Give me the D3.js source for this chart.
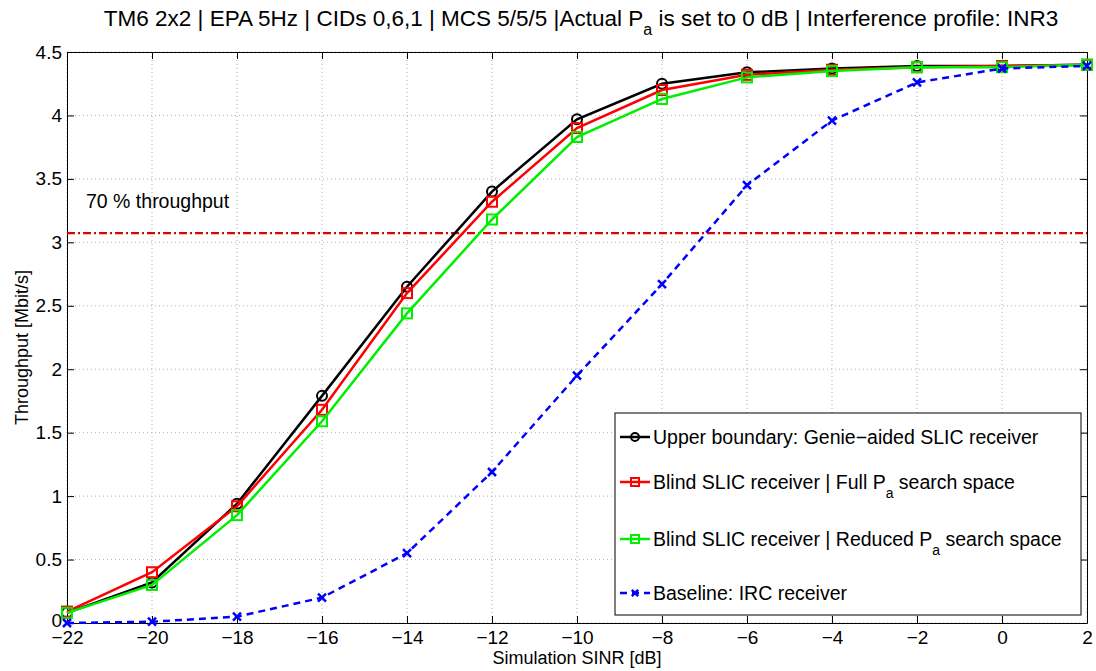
<!DOCTYPE html>
<html>
<head>
<meta charset="utf-8">
<script src="https://cdn.jsdelivr.net/npm/d3@7"></script>
<style>
  html, body { margin: 0; padding: 0; background: #fff; }
  svg { display: block; font-family: "Liberation Sans", Arial, sans-serif; }
</style>
</head>
<body>
<svg id="chart" width="1096" height="671"></svg>
<script>
// SINR grid (dB)
const sinr = [-22, -20, -18, -16, -14, -12, -10, -8, -6, -4, -2, 0, 2];

// Throughput per receiver (Mbit/s)
const genieAided   = [0.08, 0.32, 0.94, 1.79, 2.65, 3.40, 3.97, 4.25, 4.34, 4.37, 4.39, 4.39, 4.40];
const blindFull    = [0.09, 0.40, 0.92, 1.68, 2.60, 3.32, 3.90, 4.20, 4.32, 4.36, 4.38, 4.39, 4.40];
const blindReduced = [0.08, 0.30, 0.85, 1.59, 2.44, 3.18, 3.83, 4.13, 4.30, 4.35, 4.38, 4.38, 4.40];
const ircBaseline  = [0.00, 0.01, 0.05, 0.20, 0.55, 1.19, 1.95, 2.67, 3.45, 3.96, 4.26, 4.37, 4.39];

// 70 % of peak throughput
const threshold = 3.073;

const xTicks = [-22, -20, -18, -16, -14, -12, -10, -8, -6, -4, -2, 0, 2];
const yTicks = [0, 0.5, 1, 1.5, 2, 2.5, 3, 3.5, 4, 4.5];

const svg = d3.select("#chart");
const plotL = 67, plotR = 1087, plotT = 52, plotB = 623;

const x = d3.scaleLinear().domain([-22, 2]).range([plotL, plotR]);
const y = d3.scaleLinear().domain([0, 4.5]).range([plotB, plotT]);

// grid
const grid = svg.append("g").attr("stroke", "#b0b0b0").attr("stroke-width", 1)
  .attr("stroke-dasharray", "1,3");
xTicks.forEach(t => grid.append("line").attr("x1", x(t)).attr("x2", x(t)).attr("y1", plotT).attr("y2", plotB));
yTicks.forEach(t => grid.append("line").attr("x1", plotL).attr("x2", plotR).attr("y1", y(t)).attr("y2", y(t)));

// axes (ticks inward, boxed)
const tickLen = 7;
const axB = svg.append("g").attr("transform", `translate(0,${plotB})`)
  .call(d3.axisBottom(x).tickValues(xTicks).tickSizeInner(-tickLen).tickSizeOuter(0).tickPadding(8)
    .tickFormat(d => d < 0 ? "\u2212" + Math.abs(d) : d));
const axL = svg.append("g").attr("transform", `translate(${plotL},0)`)
  .call(d3.axisLeft(y).tickValues(yTicks).tickSizeInner(-tickLen).tickSizeOuter(0).tickPadding(5)
    .tickFormat(d => d));
const axT = svg.append("g").attr("transform", `translate(0,${plotT})`)
  .call(d3.axisTop(x).tickValues(xTicks).tickSizeInner(-tickLen).tickSizeOuter(0).tickFormat(""));
const axR = svg.append("g").attr("transform", `translate(${plotR},0)`)
  .call(d3.axisRight(y).tickValues(yTicks).tickSizeInner(-tickLen).tickSizeOuter(0).tickFormat(""));
[axB, axL, axT, axR].forEach(a => {
  a.select(".domain").attr("stroke", "#000").attr("stroke-width", 1);
  a.selectAll(".tick line").attr("stroke", "#000");
  a.selectAll("text").attr("font-size", 19).attr("fill", "#000")
    .attr("font-family", "'Liberation Sans', Arial, sans-serif");
});
axB.selectAll("text").attr("dy", "0.71em");
// lift the zero label a touch so it clears the first x label
axL.selectAll(".tick").filter(d => d === 0).select("text").attr("dy", "0.2em");

// threshold line
svg.append("line")
  .attr("x1", plotL).attr("x2", plotR).attr("y1", y(threshold)).attr("y2", y(threshold))
  .attr("stroke", "#e00000").attr("stroke-width", 2.2).attr("stroke-dasharray", "8,3,2,3");
svg.append("text").attr("x", 86).attr("y", 208).attr("font-size", 19.5).text("70 % throughput");

// series
const series = [
  { name: "genie", values: genieAided,   color: "#000000", marker: "circle", dash: null },
  { name: "full",  values: blindFull,    color: "#ff0000", marker: "square", dash: null },
  { name: "red",   values: blindReduced, color: "#00ee00", marker: "square", dash: null },
  { name: "irc",   values: ircBaseline,  color: "#0000ff", marker: "x",      dash: "7,5" }
];

const line = d3.line().x((d, i) => x(sinr[i])).y(d => y(d));

function drawMarker(g, type, cx, cy, color, sz) {
  const k = sz || 1;
  if (type === "circle") {
    g.append("circle").attr("cx", cx).attr("cy", cy).attr("r", 5 * k)
      .attr("fill", "none").attr("stroke", color).attr("stroke-width", 2);
  } else if (type === "square") {
    g.append("rect").attr("x", cx - 5 * k).attr("y", cy - 5 * k).attr("width", 10 * k).attr("height", 10 * k)
      .attr("fill", "none").attr("stroke", color).attr("stroke-width", 2);
  } else {
    const s = 4 * k;
    g.append("path").attr("d", `M${cx - s},${cy - s}L${cx + s},${cy + s}M${cx - s},${cy + s}L${cx + s},${cy - s}`)
      .attr("stroke", color).attr("stroke-width", 2.5);
  }
}

series.forEach(s => {
  const g = svg.append("g");
  g.append("path").datum(s.values).attr("d", line)
    .attr("fill", "none").attr("stroke", s.color).attr("stroke-width", 2.5)
    .attr("stroke-dasharray", s.dash);
  s.values.forEach((v, i) => drawMarker(g, s.marker, x(sinr[i]), y(v), s.color));
});

// legend
const lg = svg.append("g");
lg.append("rect").attr("x", 615).attr("y", 413).attr("width", 466).attr("height", 202)
  .attr("fill", "#fff").attr("stroke", "#000").attr("stroke-width", 1);
const legendRows = [
  { y: 437, s: series[0], parts: [["Upper boundary: Genie\u2212aided SLIC receiver"]] },
  { y: 482, s: series[1], parts: [["Blind SLIC receiver | Full P"], ["a", "sub"], [" search space"]] },
  { y: 539, s: series[2], parts: [["Blind SLIC receiver | Reduced P"], ["a", "sub"], [" search space"]] },
  { y: 593, s: series[3], parts: [["Baseline: IRC receiver"]] }
];
legendRows.forEach(r => {
  lg.append("line").attr("x1", 620).attr("x2", 650).attr("y1", r.y).attr("y2", r.y)
    .attr("stroke", r.s.color).attr("stroke-width", 2.5).attr("stroke-dasharray", r.s.dash);
  drawMarker(lg, r.s.marker, 635, r.y, r.s.color, 0.8);
  const t = lg.append("text").attr("x", 653).attr("y", r.y + 7).attr("font-size", 19.5);
  r.parts.forEach(p => {
    if (p[1] === "sub") t.append("tspan").attr("font-size", 14).attr("dy", 9).text(p[0]);
    else {
      const ts = t.append("tspan").text(p[0]);
      if (t.selectAll("tspan").size() > 1) ts.attr("dy", -9);
    }
  });
});

// title
const title = svg.append("text").attr("x", 581).attr("y", 26).attr("text-anchor", "middle").attr("font-size", 22.5);
title.append("tspan").text("TM6 2x2 | EPA 5Hz | CIDs 0,6,1 | MCS 5/5/5 |Actual P");
title.append("tspan").attr("font-size", 16).attr("dy", 9).text("a");
title.append("tspan").attr("dy", -9).text(" is set to 0 dB | Interference profile: INR3");

// axis labels
svg.append("text").attr("x", (plotL + plotR) / 2).attr("y", 664).attr("text-anchor", "middle")
  .attr("font-size", 18).text("Simulation SINR [dB]");
svg.append("text").attr("transform", `translate(28,${(plotT + plotB) / 2 + 10}) rotate(-90)`)
  .attr("text-anchor", "middle").attr("font-size", 18).text("Throughput [Mbit/s]");
</script>
</body>
</html>
